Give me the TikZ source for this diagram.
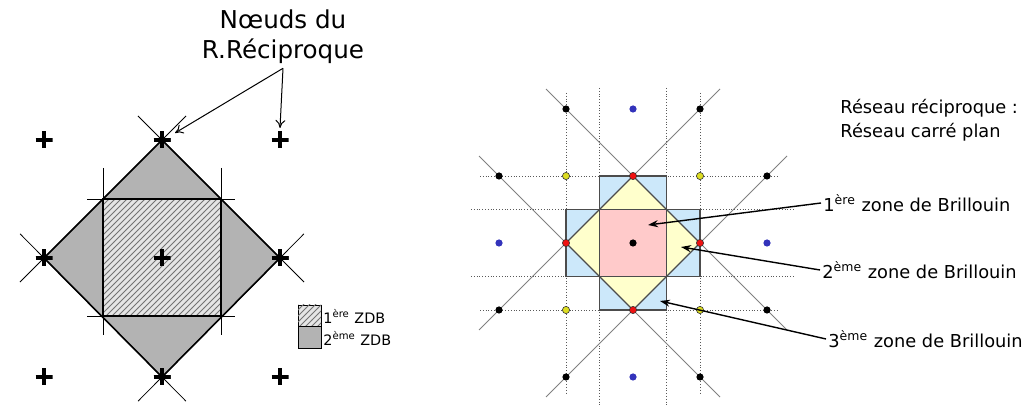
\documentclass[tikz,border=0pt]{standalone}
\usepackage{fontspec}
\setmainfont{DejaVu Sans}
\usetikzlibrary{arrows.meta,patterns}
\definecolor{zoneone}{HTML}{FFCACA}
\definecolor{zonetwo}{HTML}{FFFFCC}
\definecolor{zonethree}{HTML}{CCE8FA}
\definecolor{zdbgray}{HTML}{B3B3B3}
\definecolor{dotblue}{HTML}{3333BB}
\definecolor{dotyellow}{HTML}{DDDD22}
\definecolor{dotred}{HTML}{EE1111}

\begin{document}
\begin{tikzpicture}[x=0.5pt,y=-0.5pt,
  plusmark/.style={inner sep=0,minimum size=8.5pt,
    path picture={\draw[line width=2pt]
      (path picture bounding box.north) -- (path picture bounding box.south)
      (path picture bounding box.west) -- (path picture bounding box.east);}},
  thinline/.style={line width=0.4pt},
  zoneline/.style={line width=0.8pt},
  hatched/.style={pattern=north east lines,pattern color=gray!90!black},
  dot/.style={circle,inner sep=0,minimum size=3.6pt},
  ringdot/.style={dot,draw=black!80,line width=0.3pt},
  gridline/.style={densely dotted,gray!70!black,line width=0.4pt},
  diagline/.style={gray,line width=0.4pt},
  label/.style={font=\fontsize{8.9}{11}\selectfont,anchor=west,inner sep=1pt},
  legendtext/.style={anchor=west,inner sep=0,font=\fontsize{7.2}{9}\selectfont},
  arrow/.style={-{Stealth[length=5pt,width=3.5pt]},line width=0.7pt},
  openarrow/.style={-{To[length=4pt,width=5pt]},line width=0.5pt}
]
\useasboundingbox (0,0) rectangle (1027,410);

% left: reciprocal lattice nodes
\node[plusmark] (tl) at (44,140) {};
\node[plusmark] (tc) at (162,140) {};
\node[plusmark] (tr) at (280,140) {};
\node[plusmark] (ml) at (44,258) {};
\node[plusmark] (mc) at (162,258) {};
\node[plusmark] (mr) at (280,258) {};
\node[plusmark] (bl) at (44,377) {};
\node[plusmark] (bc) at (162,377) {};
\node[plusmark] (br) at (280,377) {};

% left: zones
\fill[zdbgray] (tc.center) -- (mr.center) -- (bc.center) -- (ml.center) -- cycle;
\fill[white] (103,199) rectangle (221,316);
\fill[gray!20] (103,199) rectangle (221,316);
\fill[hatched] (103,199) rectangle (221,316);
\draw[zoneline] (tc.center) -- (mr.center) -- (bc.center) -- (ml.center) -- cycle;
\draw[zoneline] (103,199) rectangle (221,316);
\draw[thinline,shorten <=-17pt,shorten >=-17pt] (ml.center) -- (tc.center);
\draw[thinline,shorten <=-17pt,shorten >=-17pt] (tc.center) -- (mr.center);
\draw[thinline,shorten <=-17pt,shorten >=-17pt] (ml.center) -- (bc.center);
\draw[thinline,shorten <=-17pt,shorten >=-17pt] (mr.center) -- (bc.center);
\draw[thinline] (103,168) -- (103,335);
\draw[thinline] (221,168) -- (221,335);
\draw[thinline] (87,199) -- (235,199);
\draw[thinline] (87,316) -- (235,316);
% redraw the nodes on top
\foreach \n in {tc,ml,mc,mr,bc}
  \node[plusmark] at (\n) {};

% left: legend
\draw[thinline,fill=gray!20] (298,305) rectangle (321,326);
\fill[hatched] (298,305) rectangle (321,326);
\draw[thinline,fill=zdbgray] (298,326) rectangle (321,348);
\node[legendtext] (zdb1) at (323,316) {1\textsuperscript{ère} ZDB};
\node[legendtext] (zdb2) at (323,338) {2\textsuperscript{ème} ZDB};

% left: title and arrows
\node[align=center,inner sep=2pt,font=\fontsize{12.3}{15}\selectfont] (noeuds) at (283,37) {Nœuds du\\R.Réciproque};
\coordinate (tipa) at (175,133);
\coordinate (tipb) at (280,128);
\draw[openarrow] (noeuds.south) -- (tipa);
\draw[openarrow] (noeuds.south) -- (tipb);

% right: construction lines
\draw[gridline] (566,93) -- (566,393);
\draw[gridline] (599.5,88) -- (599.5,407);
\draw[gridline] (666.5,88) -- (666.5,407);
\draw[gridline] (700,93) -- (700,393);
\draw[gridline] (480,176) -- (778,176);
\draw[gridline] (471,209.5) -- (795,209.5);
\draw[gridline] (471,276.5) -- (795,276.5);
\draw[gridline] (480,310) -- (778,310);
\draw[diagline] (546,89) -- (787,330);
\draw[diagline] (479,156) -- (720,397);
\draw[diagline] (720,89) -- (479,330);
\draw[diagline] (787,156) -- (546,397);

% right: Brillouin zones
\draw[fill=zonethree,draw=black!70,line width=0.6pt]
  (599.5,176) -- (666.5,176) -- (666.5,209.5) -- (700,209.5) -- (700,276.5)
  -- (666.5,276.5) -- (666.5,310) -- (599.5,310) -- (599.5,276.5)
  -- (566,276.5) -- (566,209.5) -- (599.5,209.5) -- cycle;
\draw[fill=zonetwo,draw=black!70,line width=0.6pt]
  (633,176) -- (700,243) -- (633,310) -- (566,243) -- cycle;
\draw[fill=zoneone,draw=black!70,line width=0.6pt] (599.5,209.5) rectangle (666.5,276.5);

% right: lattice points
\node[dot,fill=black] (o) at (633,243) {};
\node[ringdot,fill=dotred] (rn) at (633,176) {};
\node[ringdot,fill=dotred] (re) at (700,243) {};
\node[ringdot,fill=dotred] (rs) at (633,310) {};
\node[ringdot,fill=dotred] (rw) at (566,243) {};
\node[ringdot,fill=dotyellow] (yne) at (700,176) {};
\node[ringdot,fill=dotyellow] (ynw) at (566,176) {};
\node[ringdot,fill=dotyellow] (yse) at (700,310) {};
\node[ringdot,fill=dotyellow] (ysw) at (566,310) {};
\node[dot,fill=dotblue] (bn) at (633,109) {};
\node[dot,fill=dotblue] (be) at (767,243) {};
\node[dot,fill=dotblue] (bs) at (633,377) {};
\node[dot,fill=dotblue] (bw) at (499,243) {};
\node[dot,fill=black] (k1) at (566,109) {};
\node[dot,fill=black] (k2) at (700,109) {};
\node[dot,fill=black] (k3) at (767,176) {};
\node[dot,fill=black] (k4) at (767,310) {};
\node[dot,fill=black] (k5) at (700,377) {};
\node[dot,fill=black] (k6) at (566,377) {};
\node[dot,fill=black] (k7) at (499,310) {};
\node[dot,fill=black] (k8) at (499,176) {};

% right: labels
\node[align=left,anchor=west,inner sep=0,font=\fontsize{8.9}{12}\selectfont] (reseau) at (840,120) {Réseau réciproque :\\Réseau carré plan};
\node[label] (zone1) at (821,203) {1\textsuperscript{ère} zone de Brillouin};
\node[label] (zone2) at (820,270) {2\textsuperscript{ème} zone de Brillouin};
\node[label] (zone3) at (826,339) {3\textsuperscript{ème} zone de Brillouin};
\coordinate (in1) at (648,225);
\coordinate (in2) at (681,247);
\coordinate (in3) at (660,301);
\draw[arrow] (zone1.west) -- (in1);
\draw[arrow] (zone2.west) -- (in2);
\draw[arrow] (zone3.west) -- (in3);
\end{tikzpicture}
\end{document}
